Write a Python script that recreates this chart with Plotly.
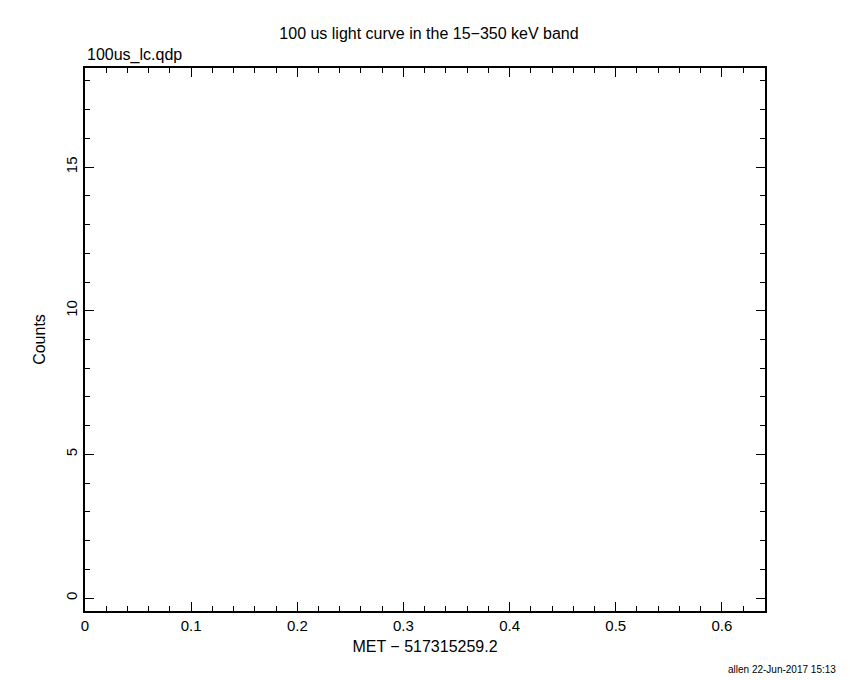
import plotly.graph_objects as go

# Data (the reference light curve shows no plotted points in this range)
time_met = []
counts = []

x_tick_vals = [0, 0.1, 0.2, 0.3, 0.4, 0.5, 0.6]
x_tick_text = ["0", "0.1", "0.2", "0.3", "0.4", "0.5", "0.6"]
y_tick_vals = [0, 5, 10, 15]
y_tick_text = ["0", "5", "10", "15"]
x_range = [0, 0.6406]
y_range = [-0.45, 18.45]

FONT = "Liberation Sans"
W, H = 842, 672  # page body adds an 8px offset

fig = go.Figure()
fig.add_trace(go.Scatter(x=time_met, y=counts, mode="lines",
                         line=dict(color="black", width=1, shape="hv"),
                         showlegend=False))

axis_common = dict(
    showgrid=False, zeroline=False, showline=True, linecolor="black",
    linewidth=1.5, mirror="allticks", ticks="inside", ticklen=9,
    tickwidth=1, tickcolor="black",
    tickfont=dict(family=FONT, size=15, color="black"),
)

fig.update_xaxes(
    range=x_range, tickmode="array", tickvals=x_tick_vals, ticktext=x_tick_text,
    minor=dict(ticks="inside", ticklen=5, dtick=0.02, tick0=0, tickcolor="black", tickwidth=1),
    title=dict(text="MET − 517315259.2", font=dict(family=FONT, size=16, color="black"), standoff=8),
    **axis_common,
)
fig.update_yaxes(
    range=y_range, tickmode="array", tickvals=y_tick_vals, ticktext=y_tick_text,
    tickangle=-90,
    minor=dict(ticks="inside", ticklen=5, dtick=1, tick0=0, tickcolor="black", tickwidth=1),
    title=dict(text="Counts", font=dict(family=FONT, size=16, color="black"), standoff=14),
    **axis_common,
)

fig.update_layout(
    width=W, height=H,
    margin=dict(l=77, r=85, t=60, b=69),
    paper_bgcolor="white", plot_bgcolor="white",
    title=dict(text="100 us light curve in the 15−350 keV band", x=0.5, xanchor="center",
               y=1 - 25 / H, yanchor="middle",
               font=dict(family=FONT, size=16, color="black")),
    annotations=[
        dict(text="100us_lc.qdp", xref="paper", yref="paper", x=0, y=1,
             xanchor="left", yanchor="bottom", yshift=2, showarrow=False,
             font=dict(family=FONT, size=16, color="black")),
        dict(text="allen 22-Jun-2017 15:13", xref="paper", yref="paper", x=1, y=0,
             xanchor="right", yanchor="middle", xshift=73, yshift=-58, showarrow=False,
             font=dict(family=FONT, size=10, color="black")),
    ],
)

fig.write_html("out.html")
